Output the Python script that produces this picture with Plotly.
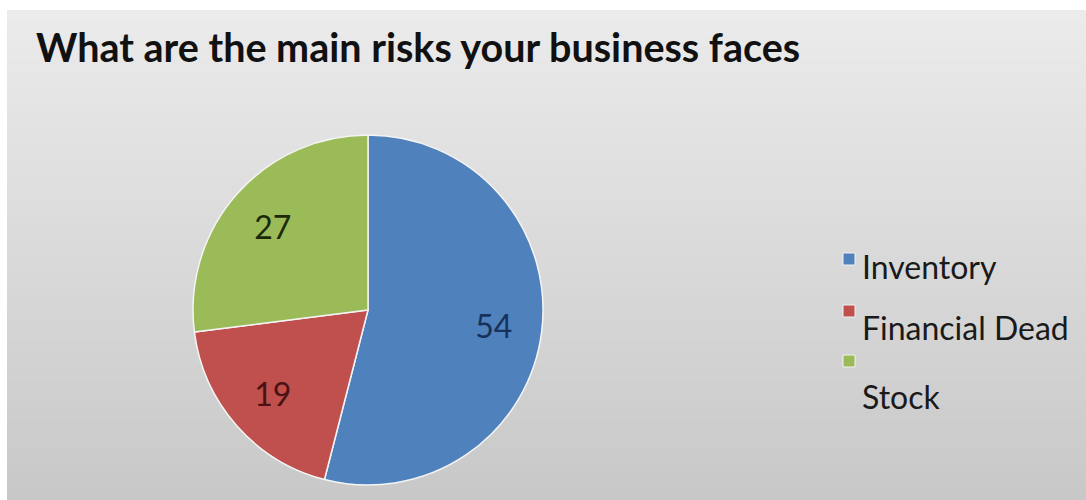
import plotly.graph_objects as go

# Survey answers: share of respondents per business risk
risk_labels = ["Inventory", "Financial Dead", "Stock"]
risk_values = [54, 19, 27]
slice_colors = ["#4f81bd", "#c0504d", "#9bbb59"]
value_text_colors = ["#17325a", "#4a1212", "#1c2a0c"]

title_text = "What are the main risks your business faces"

W, H = 1086, 500
FONT = "Lato, 'Open Sans', sans-serif"

pie_domain = dict(x=[193 / W, 543 / W], y=[(H - 485) / H, (H - 135) / H])

fig = go.Figure()

# Filled slices
fig.add_trace(go.Pie(
    labels=risk_labels,
    values=risk_values,
    sort=False,
    direction="clockwise",
    rotation=0,
    marker=dict(colors=slice_colors, line=dict(color="#f4f4f4", width=1.5)),
    textinfo="none",
    domain=pie_domain,
    showlegend=False,
    hoverinfo="label+value",
))

# Same slices as a transparent ring, so the value labels sit towards the rim
fig.add_trace(go.Pie(
    labels=risk_labels,
    values=risk_values,
    sort=False,
    direction="clockwise",
    rotation=0,
    hole=0.45,
    marker=dict(colors=["rgba(0,0,0,0)"] * len(risk_values), line=dict(width=0)),
    textinfo="value",
    textposition="inside",
    insidetextorientation="horizontal",
    insidetextfont=dict(family=FONT, size=32, color=value_text_colors),
    domain=pie_domain,
    showlegend=False,
    hoverinfo="skip",
))

# Vertical grey gradient behind the chart area (white frame on top and left)
shapes = []
top_px, left_px = 10, 7
n_bands = 98
c_top = (235, 235, 235)
c_bot = (200, 200, 200)
band_h = (H - top_px) / n_bands
for i in range(n_bands):
    t = i / (n_bands - 1)
    r, g, b = (round(c_top[k] + (c_bot[k] - c_top[k]) * t) for k in range(3))
    y0 = top_px + i * band_h
    y1 = y0 + band_h + 0.6
    shapes.append(dict(
        type="rect", xref="paper", yref="paper", layer="below",
        x0=left_px / W, x1=1, y0=1 - min(y1, H) / H, y1=1 - y0 / H,
        line=dict(width=0), fillcolor=f"rgb({r},{g},{b})",
    ))

# Legend: small coloured squares with labels
legend_square_y = [259, 311, 361]
legend_text_y = [266, 327, 396]
sq = 12
annotations = [dict(
    text=f"<b>{title_text}</b>", xref="paper", yref="paper",
    x=34 / W, y=1 - 47 / H, xanchor="left", yanchor="middle",
    showarrow=False, font=dict(family=FONT, size=39.5, color="#111111"),
)]
for lab, col, ys, yt in zip(risk_labels, slice_colors, legend_square_y, legend_text_y):
    shapes.append(dict(
        type="rect", xref="paper", yref="paper", layer="above",
        x0=843 / W, x1=(843 + sq) / W, y0=1 - (ys + sq / 2) / H, y1=1 - (ys - sq / 2) / H,
        line=dict(color="#f2f2f2", width=1), fillcolor=col,
    ))
    annotations.append(dict(
        text=lab, xref="paper", yref="paper",
        x=860 / W, y=1 - yt / H, xanchor="left", yanchor="middle",
        showarrow=False, font=dict(family=FONT, size=32, color="#1a1a1a"),
    ))

fig.update_layout(
    width=W, height=H,
    margin=dict(l=0, r=0, t=0, b=0),
    paper_bgcolor="white",
    plot_bgcolor="white",
    shapes=shapes,
    annotations=annotations,
    showlegend=False,
)

fig.write_html("out.html")
